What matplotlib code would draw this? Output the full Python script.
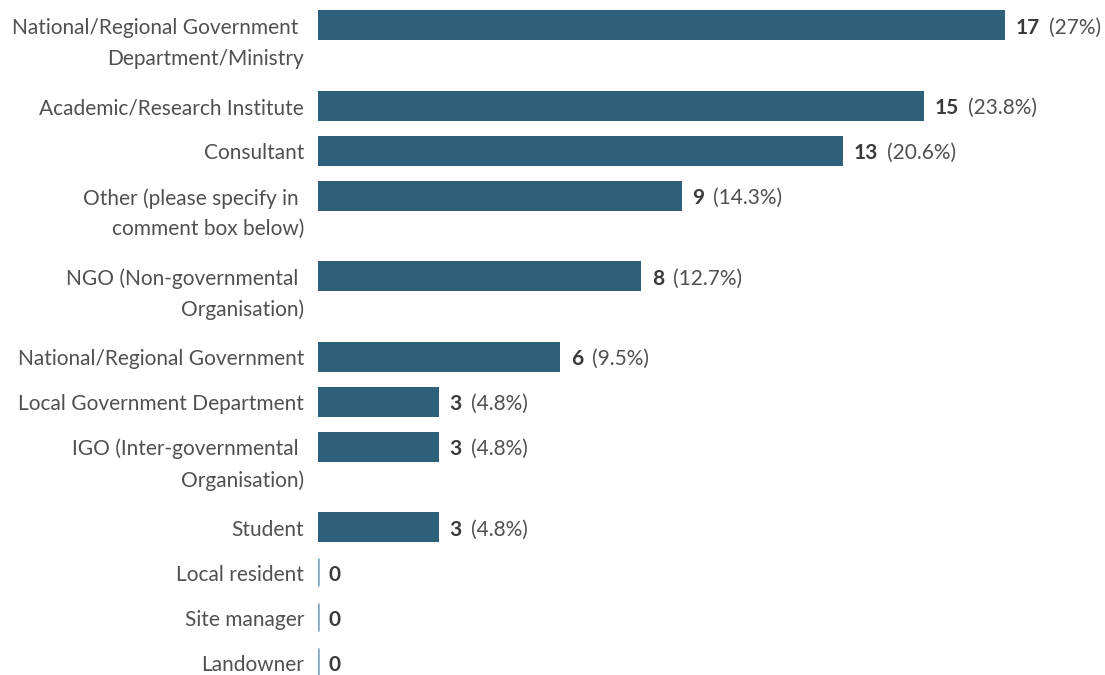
import matplotlib
matplotlib.use("Agg")
from matplotlib import pyplot as plt

labels = [
    "National/Regional Government \nDepartment/Ministry",
    "Academic/Research Institute",
    "Consultant",
    "Other (please specify in \ncomment box below)",
    "NGO (Non-governmental \nOrganisation)",
    "National/Regional Government",
    "Local Government Department",
    "IGO (Inter-governmental \nOrganisation)",
    "Student",
    "Local resident",
    "Site manager",
    "Landowner",
]
counts = [17, 15, 13, 9, 8, 6, 3, 3, 3, 0, 0, 0]
total = 63

BAR = "#2d6079"
ZERO = "#7fa6be"
LABEL = "#505050"
VALUE = "#3a3a3a"

plt.rcParams["font.family"] = ["Lato", "DejaVu Sans"]

W, H = 1105, 675
fig = plt.figure(figsize=(W / 100, H / 100), dpi=100)
# y runs in pixel-like units, top to bottom
ax = fig.add_axes([318 / W, 0, 1 - 318 / W, 1])
unit = 687 / 17
ax.set_xlim(0, (W - 318) / unit)
ax.set_ylim(H, 0)
ax.axis("off")

# row centres: two-line labels take extra room
ys = []
pos = 25
for lab in labels:
    ys.append(pos)
    pos += 45 + 35.5 * (lab.count("\n"))

fs = 15
line_gap = 31
for lab, n, y in zip(labels, counts, ys):
    nl = lab.count("\n")
    if n > 0:
        ax.barh(y, n, height=30, color=BAR, edgecolor="none")
    else:
        ax.vlines(0, y - 14, y + 14, color=ZERO, lw=1.8)
    ax.annotate(lab, xy=(0, y + nl * line_gap / 2), xycoords="data",
                xytext=(-10, -2), textcoords="offset points",
                ha="right", va="center", multialignment="right",
                fontsize=fs, color=LABEL, linespacing=1.66)
    t = ax.annotate(str(n), xy=(n, y), xycoords="data",
                    xytext=(7.5, -2), textcoords="offset points",
                    ha="left", va="center", fontsize=fs,
                    fontweight="bold", color=VALUE)
    if n > 0:
        pct = f"{100 * n / total:.1f}".rstrip("0").rstrip(".")
        ax.annotate(f"({pct}%)", xy=(1, 0.5), xycoords=t,
                    xytext=(6.5, 0), textcoords="offset points",
                    ha="left", va="center", fontsize=fs, color=LABEL)

fig.savefig("out.png", dpi=100)
